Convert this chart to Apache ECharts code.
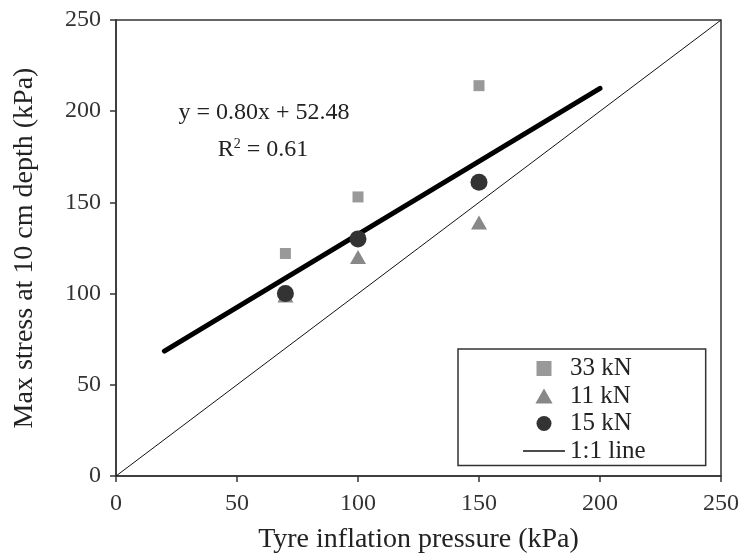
<!DOCTYPE html>
<html>
<head>
<meta charset="utf-8">
<script src="https://cdn.jsdelivr.net/npm/echarts@6/dist/echarts.min.js"></script>
<style>
  html, body { margin: 0; padding: 0; background: #fff; }
  #chart { width: 744px; height: 556px; }
</style>
</head>
<body>
<div id="chart"></div>
<script>
// tyre inflation pressure (kPa) vs max stress at 10 cm depth (kPa)
const xTicks = [0, 50, 100, 150, 200, 250];
const yTicks = [0, 50, 100, 150, 200, 250];

const load33 = [[70, 122], [100, 153], [150, 214]];
const load11 = [[70, 99], [100, 120], [150, 139]];
const load15 = [[70, 100], [100, 130], [150, 161]];

const fitLine = [[20, 68.5], [200, 212.5]];
const oneToOne = [[0, 0], [250, 250]];

const fitText = "y = 0.80x + 52.48";
const r2Text = "0.61";

const serif = "Liberation Serif, Times New Roman, serif";

const chart = echarts.init(document.getElementById("chart"));

const option = {
  backgroundColor: "#fff",
  animation: false,
  grid: {
    left: 116,
    right: 23,
    top: 20,
    bottom: 80,
    outerBoundsMode: "none",
    containLabel: false,
    show: true,
    borderColor: "#333",
    borderWidth: 1.5,
  },
  xAxis: {
    type: "value",
    min: xTicks[0],
    max: xTicks[xTicks.length - 1],
    interval: 50,
    name: "Tyre inflation pressure (kPa)",
    nameLocation: "middle",
    nameGap: 50,
    nameTextStyle: { fontFamily: serif, fontSize: 28, color: "#222" },
    axisLine: { lineStyle: { color: "#333", width: 1.5 } },
    axisTick: { length: 6, lineStyle: { color: "#333", width: 1.5 } },
    axisLabel: { fontFamily: serif, fontSize: 24, color: "#333", margin: 16 },
    splitLine: { show: false },
  },
  yAxis: {
    type: "value",
    min: yTicks[0],
    max: yTicks[yTicks.length - 1],
    interval: 50,
    name: "Max stress at 10 cm depth (kPa)",
    nameLocation: "middle",
    nameGap: 77,
    nameTextStyle: { fontFamily: serif, fontSize: 28, color: "#222" },
    axisLine: { lineStyle: { color: "#333", width: 1.5 } },
    axisTick: { length: 6, lineStyle: { color: "#333", width: 1.5 } },
    axisLabel: { fontFamily: serif, fontSize: 24, color: "#333", margin: 15 },
    splitLine: { show: false },
  },
  legend: {
    orient: "vertical",
    left: 458,
    top: 349,
    padding: [7, 60, 2, 65],
    borderColor: "#333",
    borderWidth: 1.5,
    itemWidth: 42,
    itemHeight: 15,
    itemGap: 2.5,
    symbolKeepAspect: true,
    textStyle: { fontFamily: serif, fontSize: 25, color: "#222", lineHeight: 24 },
    data: [
      { name: "33 kN", icon: "path://M0,0L10,0L10,10L0,10Z" },
      { name: "11 kN", icon: "path://M5,0L10,8.7L0,8.7Z" },
      { name: "15 kN", icon: "circle" },
      { name: "1:1 line", icon: "path://M0,0L42,0L42,1.5L0,1.5Z", itemStyle: { color: "#111" } },
    ],
  },
  graphic: [
    {
      type: "text",
      x: 264,
      y: 113,
      style: {
        text: fitText,
        fontFamily: serif,
        fontSize: 24,
        fill: "#222",
        align: "center",
        verticalAlign: "middle",
      },
    },
    {
      type: "text",
      x: 263,
      y: 150,
      style: {
        text: "R{sup|2} = " + r2Text,
        fontFamily: serif,
        fontSize: 24,
        fill: "#222",
        align: "center",
        verticalAlign: "middle",
        rich: {
          sup: { fontFamily: serif, fontSize: 14, fill: "#222", verticalAlign: "top", padding: [0, 0, 12, 0] },
        },
      },
    },
  ],
  series: [
    {
      name: "1:1 line",
      type: "line",
      data: oneToOne,
      symbol: "none",
      lineStyle: { color: "#111", width: 1 },
      itemStyle: { color: "#111" },
      silent: true,
      z: 1,
    },
    {
      name: "fit",
      type: "line",
      data: fitLine,
      symbol: "none",
      lineStyle: { color: "#000", width: 5, cap: "round" },
      silent: true,
      z: 2,
    },
    {
      name: "33 kN",
      type: "scatter",
      data: load33,
      symbol: "rect",
      symbolSize: 11,
      itemStyle: { color: "#999", opacity: 1 },
      z: 3,
    },
    {
      name: "11 kN",
      type: "scatter",
      data: load11,
      symbol: "triangle",
      symbolSize: [16, 14],
      itemStyle: { color: "#888", opacity: 1 },
      z: 4,
    },
    {
      name: "15 kN",
      type: "scatter",
      data: load15,
      symbol: "circle",
      symbolSize: 17,
      itemStyle: { color: "#333", opacity: 1 },
      z: 5,
    },
  ],
};

chart.setOption(option);
</script>
</body>
</html>
